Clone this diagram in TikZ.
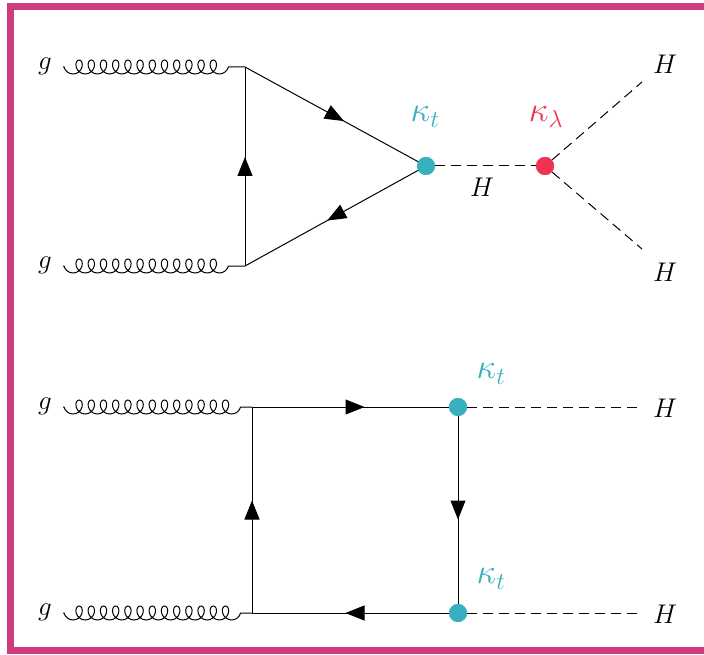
\documentclass[tikz,border=0pt]{standalone}
\usepackage{fix-cm}
\usetikzlibrary{decorations.pathmorphing,decorations.markings,arrows.meta}
\definecolor{kcyan}{RGB}{56,176,192}
\definecolor{kred}{RGB}{238,51,85}
\definecolor{frame}{RGB}{204,61,126}
\tikzset{
  every node/.style={font=\fontsize{27}{30}\selectfont},
  kappa/.style={inner sep=0pt,font=\fontsize{35}{38}\selectfont},
  gluon/.style={decorate,decoration={coil,mirror,amplitude=7pt,segment length=12.2pt,aspect=0.85,pre length=1pt,post length=9pt},line width=1pt},
  fermion/.style={line width=1pt,postaction={decorate},decoration={markings,mark=at position 0.5 with {\arrow[xshift=9.5pt]{Triangle[length=19pt,width=15pt]}}}},
  scalar/.style={dashed,dash pattern=on 10pt off 6pt,line width=1pt},
  vtx/.style={circle,fill=#1,inner sep=0pt,minimum size=18pt},
  plain/.style={inner sep=0pt},
}
\begin{document}
\begin{tikzpicture}[x=1pt,y=-1pt]
\useasboundingbox (0,0) rectangle (704,655);
\draw[frame,line width=7pt] (10.5,6.5) rectangle (730,650.5);
% top diagram
\coordinate (g1s) at (63,67);
\coordinate (g2s) at (63,266);
\coordinate (A) at (245,67);
\coordinate (B) at (245,266);
\node[vtx=kcyan] (C) at (426,166) {};
\node[vtx=kred] (D) at (545,166) {};
\coordinate (H1e) at (642,82);
\coordinate (H2e) at (642,249);
\node[plain] (lg1) at (45,66) {$g$};
\node[plain] (lg2) at (45,265) {$g$};
\draw[gluon] (g1s) -- (A);
\draw[gluon] (g2s) -- (B);
\draw[fermion] (B) -- (A);
\draw[fermion] (A) -- (C.center);
\draw[fermion] (C.center) -- (B);
\draw[scalar] (C) -- (D);
\draw[scalar] (D) -- (H1e);
\draw[scalar] (D) -- (H2e);
\node[vtx=kcyan] at (C) {};
\node[vtx=kred] at (D) {};
\node[kappa,text=kcyan] (kt1) at (425,117) {$\kappa_t$};
\node[kappa,text=kred] (kl) at (546,117) {$\kappa_\lambda$};
\node[plain] (lH0) at (482,187) {$H$};
\node[plain] (lH1) at (665,64) {$H$};
\node[plain] (lH2) at (665,272) {$H$};
% bottom diagram
\coordinate (g3s) at (63,407);
\coordinate (g4s) at (63,613);
\coordinate (E) at (252,407);
\coordinate (Hh) at (252,613);
\node[vtx=kcyan] (F) at (458,407) {};
\node[vtx=kcyan] (G) at (458,613) {};
\coordinate (H3e) at (642,407);
\coordinate (H4e) at (642,613);
\node[plain] (lg3) at (45,406) {$g$};
\node[plain] (lg4) at (45,612) {$g$};
\draw[gluon] (g3s) -- (E);
\draw[gluon] (g4s) -- (Hh);
\draw[fermion] (E) -- (F.center);
\draw[fermion] (F.center) -- (G.center);
\draw[fermion] (G.center) -- (Hh);
\draw[fermion] (Hh) -- (E);
\draw[scalar] (F) -- (H3e);
\draw[scalar] (G) -- (H4e);
\node[vtx=kcyan] at (F) {};
\node[vtx=kcyan] at (G) {};
\node[kappa,text=kcyan] (kt2) at (491,374) {$\kappa_t$};
\node[kappa,text=kcyan] (kt3) at (491,579) {$\kappa_t$};
\node[plain] (lH3) at (665,408) {$H$};
\node[plain] (lH4) at (665,614) {$H$};
\end{tikzpicture}
\end{document}
